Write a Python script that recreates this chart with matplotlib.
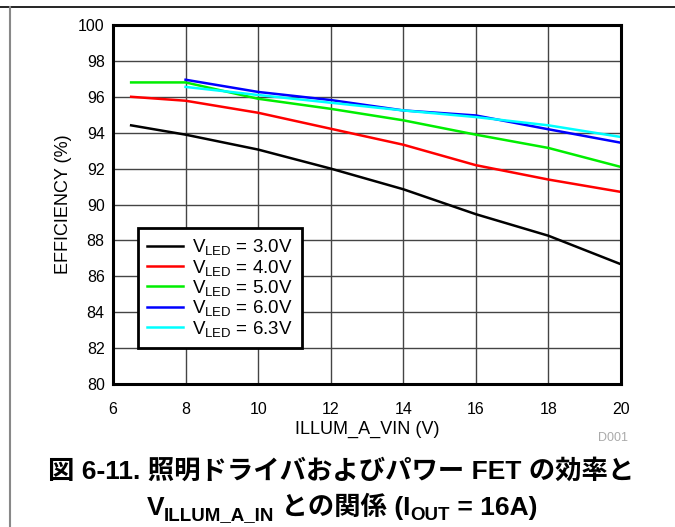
"""
Efficiency vs ILLUM_A_VIN for several VLED settings.
"""

import matplotlib
matplotlib.use('Agg')
import matplotlib.pyplot as plt
from matplotlib.lines import Line2D

plt.rcParams.update({
    'font.family': ['Liberation Sans', 'Noto Sans CJK JP'],
    'font.size': 12,
    'mathtext.fontset': 'custom',
    'mathtext.rm': 'Liberation Sans',
    'mathtext.it': 'Liberation Sans:italic',
    'mathtext.bf': 'Liberation Sans:bold',
})

# Data
vin_a = [6.5, 8, 10, 12, 14, 16, 18, 20]
vin_b = [8, 10, 12, 14, 16, 18, 20]
eff_30 = [94.41, 93.89, 93.06, 92.0, 90.85, 89.46, 88.26, 86.67]
eff_40 = [96.0, 95.78, 95.11, 94.22, 93.33, 92.19, 91.39, 90.70]
eff_50 = [96.8, 96.8, 95.89, 95.33, 94.69, 93.89, 93.15, 92.09]
eff_60 = [96.95, 96.27, 95.82, 95.24, 94.96, 94.19, 93.44]
eff_63 = [96.55, 96.1, 95.67, 95.24, 94.87, 94.41, 93.76]

series = [
    (vin_a, eff_30, '3.0V', '#000000'),
    (vin_a, eff_40, '4.0V', '#ff0000'),
    (vin_a, eff_50, '5.0V', '#00ee00'),
    (vin_b, eff_60, '6.0V', '#0000ff'),
    (vin_b, eff_63, '6.3V', '#00ffff'),
]

x_ticks = [6, 8, 10, 12, 14, 16, 18, 20]
y_ticks = [80, 82, 84, 86, 88, 90, 92, 94, 96, 98, 100]

fig = plt.figure(figsize=(6.75, 5.27), dpi=100)
ax = fig.add_axes([0.1674, 0.2713, 0.7526, 0.6813])

for x, y, lab, col in series:
    ax.plot(x, y, color=col, lw=1.8, label=r'V$_{\mathrm{LED}}$ = ' + lab)

ax.set_xlim(6, 20)
ax.set_ylim(80, 100)
ax.set_xticks(x_ticks)
ax.set_yticks(y_ticks)
ax.tick_params(length=0, labelsize=11.5)
ax.tick_params(axis='x', pad=13)
ax.tick_params(axis='y', pad=6)
ax.grid(True, color='#444444', lw=1.0)
ax.set_axisbelow(True)
for s in ax.spines.values():
    s.set_linewidth(2.2)

ax.set_ylabel('EFFICIENCY (%)', fontsize=13, labelpad=4)
ax.set_xlabel('ILLUM_A_VIN (V)', fontsize=13, labelpad=3)

leg = ax.legend(loc='lower left', bbox_to_anchor=(0.049, 0.10), fontsize=13.5,
                frameon=True, fancybox=False, framealpha=1, edgecolor='black',
                handlelength=1.9, handletextpad=0.5, labelspacing=0.02,
                borderpad=0.5, borderaxespad=0)
leg.get_frame().set_linewidth(2.0)

fig.text(613 / 675, 1 - 438 / 527, 'D001', color='#aaaaaa', fontsize=9,
         ha='center', va='center')

# outer frame lines
fig.add_artist(Line2D([0, 1], [1 - 7 / 527, 1 - 7 / 527], color='black', lw=1.2))
fig.add_artist(Line2D([10 / 675, 10 / 675], [0, 1 - 7 / 527], color='#888888', lw=1.5))

# caption
fig.text(341 / 675, 1 - 471 / 527, '図 6-11. 照明ドライバおよびパワー FET の効率と',
         fontsize=19, fontweight='bold', ha='center', va='center')

fig.canvas.draw()
renderer = fig.canvas.get_renderer()
pieces = [('V', False), ('ILLUM_A_IN', True), (' との関係 (I', False),
          ('OUT', True), (' = 16A)', False)]
big, small = 19, 13.5
y_base = 1 - 515 / 527
texts = []
for s, sub in pieces:
    t = fig.text(0, y_base - (0.0095 if sub else 0), s, fontsize=small if sub else big,
                 fontweight='bold', ha='left', va='baseline')
    texts.append(t)
widths = [t.get_window_extent(renderer).width / fig.bbox.width for t in texts]
x = 342 / 675 - sum(widths) / 2
for t, w in zip(texts, widths):
    t.set_x(x)
    x += w

fig.savefig('out.png', dpi=100)
